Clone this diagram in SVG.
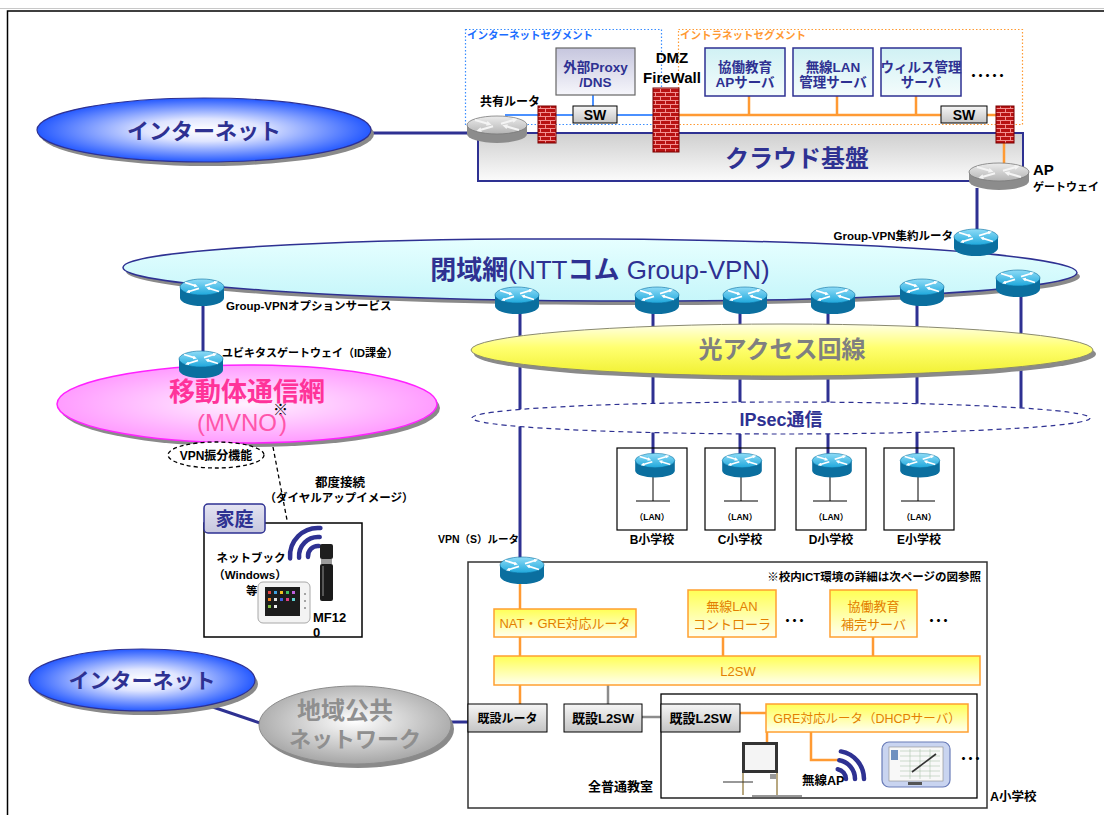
<svg xmlns="http://www.w3.org/2000/svg" width="1104" height="815" viewBox="0 0 1104 815">
<style>
text{font-family:"Liberation Sans","Noto Sans CJK JP",sans-serif}
.b{font-weight:bold}
.nv{fill:#2e3192}
.k{fill:#000}
.or{fill:#e37f00}
.mid{text-anchor:middle}
.end{text-anchor:end}
.ln{stroke:#2e3192;stroke-width:3;fill:none}
.lo{stroke:#ff9a33;stroke-width:2.5;fill:none}
.lb{stroke:#4a90ff;stroke-width:2;fill:none}
.lg{stroke:#8c8c8c;stroke-width:2.5;fill:none}
.ld{stroke:#000;stroke-width:1.3;stroke-dasharray:4 3;fill:none}
.sh{fill:#8a8a8a}
.ybox{fill:url(#gYel);stroke:#ffa030;stroke-width:1.5}
.gbox{fill:url(#gSW);stroke:#000;stroke-width:1}
.srv{fill:url(#gSrv);stroke:#2e3192;stroke-width:1.5}
.fw{fill:url(#brick);stroke:#7a0000;stroke-width:1}
</style>
<defs>
  <radialGradient id="gInet" cx="50%" cy="50%" r="50%">
    <stop offset="0" stop-color="#ffffff"/>
    <stop offset="0.35" stop-color="#dfe5ff"/>
    <stop offset="1" stop-color="#2559ff"/>
  </radialGradient>
  <linearGradient id="gClosed" x1="0" y1="0" x2="0" y2="1">
    <stop offset="0" stop-color="#e6ffff"/>
    <stop offset="1" stop-color="#c6f6fa"/>
  </linearGradient>
  <linearGradient id="gHikari" x1="0" y1="0" x2="0" y2="1">
    <stop offset="0" stop-color="#ffffe6"/>
    <stop offset="0.45" stop-color="#ffff70"/>
    <stop offset="1" stop-color="#f0f030"/>
  </linearGradient>
  <radialGradient id="gPink" cx="50%" cy="50%" r="50%">
    <stop offset="0" stop-color="#fff2ff"/>
    <stop offset="1" stop-color="#ff9cff"/>
  </radialGradient>
  <radialGradient id="gChiiki" cx="50%" cy="45%" r="55%">
    <stop offset="0" stop-color="#ffffff"/>
    <stop offset="1" stop-color="#a6a6a6"/>
  </radialGradient>
  <linearGradient id="gCloud" x1="0" y1="0" x2="0" y2="1">
    <stop offset="0" stop-color="#cfcfcf"/>
    <stop offset="1" stop-color="#fbfbfb"/>
  </linearGradient>
  <linearGradient id="gProxy" x1="0" y1="0" x2="0" y2="1">
    <stop offset="0" stop-color="#c6c6de"/>
    <stop offset="1" stop-color="#f6f6fb"/>
  </linearGradient>
  <linearGradient id="gSrv" x1="0" y1="0" x2="0" y2="1">
    <stop offset="0" stop-color="#d0f1f4"/>
    <stop offset="1" stop-color="#f4fcfc"/>
  </linearGradient>
  <linearGradient id="gSW" x1="0" y1="0" x2="0" y2="1">
    <stop offset="0" stop-color="#f6f6f6"/>
    <stop offset="1" stop-color="#c4c4c4"/>
  </linearGradient>
  <linearGradient id="gYel" x1="0" y1="0" x2="0" y2="1">
    <stop offset="0" stop-color="#ffff55"/>
    <stop offset="1" stop-color="#fffff0"/>
  </linearGradient>
  <linearGradient id="gTab" x1="0" y1="0" x2="0" y2="1">
    <stop offset="0" stop-color="#e4e4f2"/>
    <stop offset="1" stop-color="#c6c6de"/>
  </linearGradient>
  <linearGradient id="gRtrTop" x1="0" y1="0" x2="0" y2="1">
    <stop offset="0" stop-color="#8fdcf7"/>
    <stop offset="1" stop-color="#1fa8dc"/>
  </linearGradient>
  <linearGradient id="gGrayTop" x1="0" y1="0" x2="0" y2="1">
    <stop offset="0" stop-color="#ececec"/>
    <stop offset="1" stop-color="#b4b4b4"/>
  </linearGradient>
  <pattern id="brick" width="10" height="8" patternUnits="userSpaceOnUse">
    <rect width="10" height="8" fill="#b81212"/>
    <path d="M0,0.5H10M0,4.5H10M0.5,0V4.5M5.5,4.5V8" stroke="#f29090" stroke-width="1"/>
  </pattern>
  <marker id="ah" viewBox="0 0 4 4" refX="1" refY="2" markerWidth="4" markerHeight="4" markerUnits="userSpaceOnUse" orient="auto">
    <path d="M0,0L4,2L0,4z" fill="#fff"/>
  </marker>
  <marker id="ahg" viewBox="0 0 4 4" refX="1" refY="2" markerWidth="5" markerHeight="5" markerUnits="userSpaceOnUse" orient="auto">
    <path d="M0,0L4,2L0,4z" fill="#f4f4f4"/>
  </marker>
  <!-- blue router icon, centred at 0,0 -->
  <g id="rb">
    <path d="M-22,-5V6A22,8 0 0 0 22,6V-5Z" fill="#0b6f9f"/>
    <ellipse cx="0" cy="-5" rx="22" ry="8" fill="url(#gRtrTop)" stroke="#0b6f9f" stroke-width="0.6"/>
    <g stroke="#fff" stroke-width="1.8" fill="none" marker-end="url(#ah)">
      <path d="M-17,-9.5L-7,-6.3"/>
      <path d="M17,-0.5L7,-3.7"/>
      <path d="M3,-6.3L13,-9.5"/>
      <path d="M-3,-3.7L-13,-0.5"/>
    </g>
  </g>
  <!-- grey router icon, centred at 0,0 -->
  <g id="rg">
    <path d="M-30,-4V5A30,9 0 0 0 30,5V-4Z" fill="#8c8c8c"/>
    <ellipse cx="0" cy="-4" rx="30" ry="9" fill="url(#gGrayTop)" stroke="#7a7a7a" stroke-width="0.8"/>
    <g stroke="#f4f4f4" stroke-width="2.2" fill="none" marker-end="url(#ahg)">
      <path d="M-22,-9L-9,-5.3"/>
      <path d="M22,1L9,-2.7"/>
      <path d="M4,-5.3L17,-9"/>
      <path d="M-4,-2.7L-17,1"/>
    </g>
  </g>
</defs>

<rect width="1104" height="815" fill="#fff"/>
<!-- page frame -->
<path d="M0,8.5H1104" stroke="#c8c8c8" stroke-width="1"/>
<path d="M7.5,815V11H1104" stroke="#000" stroke-width="1.5" fill="none"/>

<!-- background layers -->
<g id="internet-segment">
  <rect x="465.5" y="29.5" width="196" height="95" fill="none" stroke="#3a8dff" stroke-width="1.2" stroke-dasharray="1.5 2"/>
  <text x="467" y="39" class="b" font-size="10.5" fill="#1a6cff">インターネットセグメント</text>
</g>
<g id="intranet-segment">
  <rect x="678.5" y="29.5" width="344" height="95" fill="none" stroke="#ff9a33" stroke-width="1.2" stroke-dasharray="1.5 2"/>
  <text x="680" y="39" class="b" font-size="10.5" fill="#ff9933">イントラネットセグメント</text>
</g>
<g id="cloud-base">
  <rect x="478" y="133" width="545" height="48" fill="url(#gCloud)" stroke="#2e3192" stroke-width="2"/>
  <text x="797" y="167" class="b nv mid" font-size="24">クラウド基盤</text>
</g>
<g id="closed-network">
  <g transform="rotate(0.3 600 270)">
    <ellipse cx="603" cy="274" rx="477" ry="31" class="sh"/>
    <ellipse cx="600" cy="270" rx="477" ry="31" fill="url(#gClosed)" stroke="#2e3192" stroke-width="1.5"/>
  </g>
  <text x="600" y="279" class="nv mid" font-size="26"><tspan class="b">閉域網</tspan>(NTT<tspan class="b">コム</tspan> Group-VPN)</text>
</g>

<!-- connectors -->
<g id="connectors">
  <path class="ln" d="M372,133H470"/>
  <path class="ln" d="M977,188V232"/>
  <path class="ln" d="M203,300V358"/>
  <path class="ln" d="M520,305V562"/>
  <path class="ln" d="M653,305V460"/>
  <path class="ln" d="M740,305V460"/>
  <path class="ln" d="M828,305V460"/>
  <path class="ln" d="M917,297V460"/>
  <path class="ln" d="M1021,288V418"/>
  <path class="ln" d="M201,703L260,723"/>
  <path class="ln" d="M450,722H468"/>
  <path class="lb" d="M505,115H655"/>
  <path class="lb" d="M593,95V106"/>
  <path class="lo" d="M679,115H996"/>
  <path class="lo" d="M749,96V115M837,96V115M916,96V115"/>
  <path class="lo" d="M1004,143V166"/>
  <path class="lo" d="M520,580V609M520,637V656M723,637V656M873,637V656M520,685V704"/>
  <path class="lo" d="M740,713H766"/>
  <path class="lo" d="M767,732V743"/>
  <path class="lo" d="M811,732V760H838"/>
  <path class="lg" d="M608,685V704"/>
  <path class="lg" d="M642,717H661"/>
  <path class="ld" d="M273,447L287,520"/>
  <path d="M653,475V501M636,501H670" stroke="#000" stroke-width="1" fill="none"/>
  <path d="M741,475V501M724,501H758" stroke="#000" stroke-width="1" fill="none"/>
  <path d="M830,475V501M813,501H847" stroke="#000" stroke-width="1" fill="none"/>
  <path d="M918,475V501M901,501H935" stroke="#000" stroke-width="1" fill="none"/>
</g>

<!-- internet (top) -->
<g id="internet-1">
  <ellipse cx="207" cy="134" rx="167" ry="32" class="sh"/>
  <ellipse cx="204" cy="130" rx="167" ry="32" fill="url(#gInet)" stroke="#2e3192" stroke-width="1.2"/>
  <text x="204" y="139" class="b nv mid" font-size="22">インターネット</text>
</g>

<!-- top segment servers -->
<g id="proxy-dns">
  <rect x="556" y="48" width="79" height="47" fill="url(#gProxy)" stroke="#666" stroke-width="1.2"/>
  <text x="595.5" y="72" class="b nv mid" font-size="13.5">外部Proxy</text>
  <text x="595.5" y="87" class="b nv mid" font-size="13.5">/DNS</text>
</g>
<g id="sw-inet">
  <rect x="573" y="106" width="44" height="17" class="gbox"/>
  <text x="595" y="120" class="b k mid" font-size="14">SW</text>
</g>
<g id="fw-shared">
  <rect x="538" y="106" width="18" height="37" class="fw"/>
</g>
<g id="dmz-firewall">
  <rect x="653" y="88" width="26" height="64" class="fw"/>
  <text x="672" y="63" class="b k mid" font-size="15">DMZ</text>
  <text x="672" y="83" class="b k mid" font-size="15">FireWall</text>
</g>
<g id="srv-kyodo">
  <rect x="705" y="48" width="80" height="48" class="srv"/>
  <text x="745" y="72" class="b nv mid" font-size="13.5">協働教育</text>
  <text x="745" y="87" class="b nv mid" font-size="13.5">APサーバ</text>
</g>
<g id="srv-wlan">
  <rect x="793" y="48" width="80" height="48" class="srv"/>
  <text x="833" y="72" class="b nv mid" font-size="13.5">無線LAN</text>
  <text x="833" y="87" class="b nv mid" font-size="13.5">管理サーバ</text>
</g>
<g id="srv-virus">
  <rect x="881" y="48" width="80" height="48" class="srv"/>
  <text x="921" y="72" class="b nv mid" font-size="13.5">ウィルス管理</text>
  <text x="921" y="87" class="b nv mid" font-size="13.5">サーバ</text>
</g>
<text x="985" y="81" class="b k mid" font-size="12" letter-spacing="-5">・・・・・</text>
<g id="sw-intra">
  <rect x="941" y="106" width="46" height="17" class="gbox"/>
  <text x="964" y="120" class="b k mid" font-size="14">SW</text>
</g>
<g id="fw-intra">
  <rect x="996" y="106" width="18" height="37" class="fw"/>
</g>
<g id="shared-router">
  <use href="#rg" x="497" y="129"/>
  <text x="480" y="106" class="b k" font-size="12">共有ルータ</text>
</g>
<g id="ap-gateway">
  <use href="#rg" x="999" y="176"/>
  <text x="1033" y="175" class="b k" font-size="15">AP</text>
  <text x="1033" y="191" class="b k" font-size="11">ゲートウェイ</text>
</g>

<!-- access networks -->
<g id="hikari">
  <ellipse cx="785" cy="354" rx="311" ry="26" class="sh"/>
  <ellipse cx="782" cy="350" rx="311" ry="26" fill="url(#gHikari)" stroke="#8a8a70" stroke-width="1"/>
  <text x="782" y="358" class="b mid" font-size="24" fill="#808080">光アクセス回線</text>
</g>
<g id="ipsec">
  <ellipse cx="781" cy="418" rx="309" ry="16" fill="#fff" stroke="#2e3192" stroke-width="1.2" stroke-dasharray="5 4"/>
  <text x="781" y="426" class="b nv mid" font-size="18">IPsec通信</text>
</g>

<!-- mobile network -->
<g id="mvno">
  <ellipse cx="250" cy="408" rx="190" ry="39" class="sh"/>
  <ellipse cx="247" cy="404" rx="190" ry="39" fill="url(#gPink)" stroke="#ff22ff" stroke-width="1.5"/>
  <text x="247" y="401" class="b mid" font-size="26" fill="#ff3399">移動体通信網</text>
  <text x="197" y="431" font-size="24" fill="#ff55aa">(MVNO<tspan dx="-4" dy="-16" font-size="15" fill="#000">※</tspan><tspan dx="-9" dy="16">)</tspan></text>
</g>
<g id="vpn-furiwake">
  <ellipse cx="216" cy="455" rx="48" ry="13" fill="#fff" stroke="#000" stroke-width="1.3" stroke-dasharray="4 3"/>
  <text x="216" y="459.5" class="b k mid" font-size="12">VPN振分機能</text>
</g>
<g id="dialup-label">
  <text x="340" y="487" class="b k mid" font-size="12.5">都度接続</text>
  <text x="339" y="502" class="b k mid" font-size="11.5">（ダイヤルアップイメージ）</text>
</g>

<!-- home -->
<g id="home">
  <rect x="204" y="523" width="158" height="114" fill="#fff" stroke="#000" stroke-width="1.5"/>
  <rect x="204" y="504" width="61" height="29" rx="4" fill="url(#gTab)" stroke="#2e3192" stroke-width="1.5"/>
  <text x="234.5" y="525.5" class="b nv mid" font-size="19">家庭</text>
  <g stroke="#2e3192" stroke-width="4.5" fill="none" stroke-linecap="round">
    <path d="M290.1,558.4A28,28 0 0 1 320.4,528.1"/>
    <path d="M299.1,557.7A19,19 0 0 1 319.7,537.1"/>
    <path d="M308,556.9A10,10 0 0 1 318.9,546"/>
  </g>
  <rect x="320" y="544" width="13" height="15" rx="2" fill="#1e1e1e"/>
  <rect x="321" y="559" width="11" height="5" fill="#9a9a9a"/>
  <rect x="320" y="564" width="13" height="37" rx="2" fill="#1a1a1a"/>
  <rect x="322" y="566" width="2" height="30" fill="#555"/>
  <text x="251" y="562" class="b k mid" font-size="11.5">ネットブック</text>
  <text x="250" y="579" class="b k mid" font-size="11.5">（Windows）</text>
  <text x="246" y="595" class="b k" font-size="11.5">等</text>
  <rect x="258" y="582" width="52" height="41" rx="5" fill="#f3f3f3" stroke="#a8a8a8"/>
  <rect x="265" y="587" width="35" height="29" fill="#1c1c1c"/>
  <g>
    <rect x="268" y="591" width="3" height="3" fill="#e04040"/>
    <rect x="274" y="591" width="3" height="3" fill="#40a0e0"/>
    <rect x="280" y="591" width="3" height="3" fill="#f0c020"/>
    <rect x="286" y="591" width="3" height="3" fill="#40c060"/>
    <rect x="292" y="591" width="3" height="3" fill="#c060e0"/>
    <rect x="268" y="598" width="3" height="3" fill="#f08020"/>
    <rect x="274" y="598" width="3" height="3" fill="#e0e0e0"/>
    <rect x="280" y="598" width="3" height="3" fill="#4060e0"/>
    <rect x="286" y="598" width="3" height="3" fill="#e04080"/>
    <rect x="292" y="598" width="3" height="3" fill="#60d0d0"/>
    <rect x="268" y="605" width="3" height="3" fill="#80c040"/>
    <rect x="274" y="605" width="3" height="3" fill="#f0f0f0"/>
  </g>
  <circle cx="305" cy="594" r="1" fill="#888"/>
  <circle cx="305" cy="601" r="1" fill="#888"/>
  <circle cx="305" cy="608" r="1" fill="#888"/>
  <text x="313" y="622" class="b k" font-size="13">MF12</text>
  <text x="313" y="637" class="b k" font-size="13">0</text>
</g>

<!-- bottom left networks -->
<g id="internet-2">
  <ellipse cx="145" cy="684" rx="113" ry="31" class="sh"/>
  <ellipse cx="142" cy="680" rx="113" ry="31" fill="url(#gInet)" stroke="#2e3192" stroke-width="1.2"/>
  <text x="142" y="688" class="b nv mid" font-size="21">インターネット</text>
</g>
<g id="chiiki">
  <ellipse cx="358" cy="729" rx="96" ry="39" class="sh"/>
  <ellipse cx="355" cy="725" rx="96" ry="39" fill="url(#gChiiki)" stroke="#8c8c8c" stroke-width="1"/>
  <text x="345" y="719" class="b mid" font-size="24" fill="#8f8f8f">地域公共</text>
  <text x="355" y="747" class="b mid" font-size="22" fill="#8f8f8f">ネットワーク</text>
</g>

<!-- schools B-E -->
<g id="school-b">
  <rect x="617" y="448" width="70" height="82" fill="none" stroke="#000" stroke-width="1.2"/>
  <text x="652" y="520" class="b k mid" font-size="8.5">（LAN）</text>
  <text x="652" y="544" class="b k mid" font-size="12">B小学校</text>
</g>
<g id="school-c">
  <rect x="705" y="448" width="70" height="82" fill="none" stroke="#000" stroke-width="1.2"/>
  <text x="740" y="520" class="b k mid" font-size="8.5">（LAN）</text>
  <text x="740" y="544" class="b k mid" font-size="12">C小学校</text>
</g>
<g id="school-d">
  <rect x="796" y="448" width="70" height="82" fill="none" stroke="#000" stroke-width="1.2"/>
  <text x="831" y="520" class="b k mid" font-size="8.5">（LAN）</text>
  <text x="831" y="544" class="b k mid" font-size="12">D小学校</text>
</g>
<g id="school-e">
  <rect x="884" y="448" width="70" height="82" fill="none" stroke="#000" stroke-width="1.2"/>
  <text x="919" y="520" class="b k mid" font-size="8.5">（LAN）</text>
  <text x="919" y="544" class="b k mid" font-size="12">E小学校</text>
</g>

<!-- school A -->
<g id="school-a">
  <rect x="468" y="562" width="519" height="246" fill="none" stroke="#333" stroke-width="1.5"/>
  <text x="981" y="581" class="b k end" font-size="11.5">※校内ICT環境の詳細は次ページの図参照</text>
  <text x="990" y="801" class="b k" font-size="12.5">A小学校</text>
</g>
<g id="nat-gre-router">
  <rect x="494" y="609" width="142" height="28" class="ybox"/>
  <text x="565" y="628" class="or mid" font-size="13">NAT・GRE対応ルータ</text>
</g>
<g id="wlan-controller">
  <rect x="688" y="590" width="88" height="47" class="ybox"/>
  <text x="732" y="611" class="or mid" font-size="13">無線LAN</text>
  <text x="732" y="629" class="or mid" font-size="13">コントローラ</text>
</g>
<text x="792" y="626" class="b k mid" font-size="12" letter-spacing="-5">・・・</text>
<g id="kyodo-hokan">
  <rect x="830" y="590" width="87" height="47" class="ybox"/>
  <text x="873.5" y="611" class="or mid" font-size="13">協働教育</text>
  <text x="873.5" y="629" class="or mid" font-size="13">補完サーバ</text>
</g>
<text x="936" y="626" class="b k mid" font-size="12" letter-spacing="-5">・・・</text>
<g id="l2sw">
  <rect x="494" y="656" width="486" height="29" class="ybox"/>
  <text x="738" y="676" class="or mid" font-size="13">L2SW</text>
</g>
<g id="kisetsu-router">
  <rect x="468" y="704" width="79" height="28" class="gbox"/>
  <text x="507.5" y="722.5" class="b k mid" font-size="12">既設ルータ</text>
</g>
<g id="kisetsu-l2sw-1">
  <rect x="564" y="704" width="78" height="28" class="gbox"/>
  <text x="603" y="723" class="b k mid" font-size="13">既設L2SW</text>
</g>
<g id="classroom">
  <rect x="661" y="694" width="316" height="104" fill="none" stroke="#000" stroke-width="1.3"/>
  <text x="588" y="791" class="b k" font-size="13">全普通教室</text>
</g>
<g id="kisetsu-l2sw-2">
  <rect x="661" y="704" width="79" height="28" class="gbox"/>
  <text x="700.5" y="723" class="b k mid" font-size="13">既設L2SW</text>
</g>
<g id="gre-dhcp-router">
  <rect x="766" y="704" width="202" height="28" class="ybox"/>
  <text x="867" y="723" class="or mid" font-size="12.5">GRE対応ルータ（DHCPサーバ）</text>
</g>
<g id="whiteboard">
  <path d="M743,772V795M777,772V795" stroke="#b8a880" stroke-width="2" fill="none"/>
  <path d="M723,782H753M752,796H802" stroke="#333" stroke-width="1.2" fill="none"/>
  <rect x="742" y="742" width="36" height="31" fill="#333"/>
  <rect x="745" y="745" width="30" height="25" fill="#f4f4f4"/>
  <rect x="770" y="774" width="6" height="5" fill="#999"/>
</g>
<g id="wireless-ap">
  <g stroke="#2e3192" stroke-width="4.5" fill="none" stroke-linecap="round">
    <path d="M840.9,751.4A28,28 0 0 1 864,779"/>
    <path d="M839.3,760.3A19,19 0 0 1 855,779"/>
    <path d="M837.7,769.2A10,10 0 0 1 846,779"/>
  </g>
  <text x="802" y="785" class="b k" font-size="12.5">無線AP</text>
</g>
<g id="tablet-pc">
  <rect x="882" y="742" width="68" height="45" rx="7" fill="#c9d4f0" stroke="#6a7cb8" stroke-width="1.2"/>
  <rect x="889" y="747" width="54" height="34" fill="#f8f8f8" stroke="#8a8a8a" stroke-width="0.6"/>
  <path d="M900,751H940M900,756H940M900,761H940M900,766H940M900,771H940M900,776H940M910,749V779M920,749V779M930,749V779" stroke="#b0c8b0" stroke-width="0.6"/>
  <rect x="891" y="750" width="7" height="10" fill="#7090c0"/>
  <path d="M912,772L936,754" stroke="#333" stroke-width="1.6"/>
  <rect x="908" y="782" width="14" height="3" fill="#555"/>
</g>
<text x="968" y="764" class="b k mid" font-size="12" letter-spacing="-5">・・・</text>

<!-- routers on the networks -->
<g id="rt-option">
  <use href="#rb" x="202" y="292"/>
  <text x="226" y="310" class="b k" font-size="11.5">Group-VPNオプションサービス</text>
</g>
<g id="rt-ubiquitous">
  <use href="#rb" x="201" y="364"/>
  <text x="222" y="357" class="b k" font-size="11">ユビキタスゲートウェイ（ID課金）</text>
</g>
<g id="rt-aggregate">
  <use href="#rb" x="976" y="242"/>
  <text x="953" y="240" class="b k end" font-size="11.5">Group-VPN集約ルータ</text>
</g>
<g id="rt-vpn-1"><use href="#rb" x="517" y="300"/></g>
<g id="rt-vpn-2"><use href="#rb" x="657" y="300"/></g>
<g id="rt-vpn-3"><use href="#rb" x="745" y="300"/></g>
<g id="rt-vpn-4"><use href="#rb" x="833" y="300"/></g>
<g id="rt-vpn-5"><use href="#rb" x="922" y="292"/></g>
<g id="rt-vpn-6"><use href="#rb" x="1018" y="283"/></g>
<g id="rt-school-b"><use href="#rb" transform="translate(655 465) scale(0.9)"/></g>
<g id="rt-school-c"><use href="#rb" transform="translate(742 465) scale(0.9)"/></g>
<g id="rt-school-d"><use href="#rb" transform="translate(832 465) scale(0.9)"/></g>
<g id="rt-school-e"><use href="#rb" transform="translate(920 465) scale(0.9)"/></g>
<g id="rt-vpn-s">
  <use href="#rb" x="522" y="570"/>
  <text x="519" y="543" class="b k end" font-size="10.5">VPN（S）ルータ</text>
</g>
</svg>
